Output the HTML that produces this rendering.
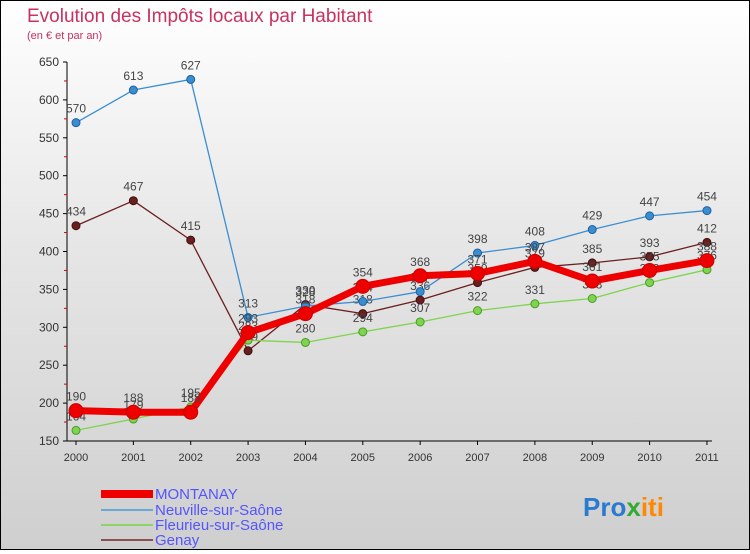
<!DOCTYPE html>
<html><head><meta charset="utf-8"><style>
html,body{margin:0;padding:0}
body{width:750px;height:550px;overflow:hidden;font-family:"Liberation Sans",sans-serif}
#wrap{position:relative;width:748px;height:548px;border:1px solid #000;background:linear-gradient(#ffffff,#e6e6e6 45%,#cfcfcf)}
</style></head><body>
<div id="wrap">
<svg id="chart" width="748" height="548" xmlns="http://www.w3.org/2000/svg">
<text x="26" y="21" font-size="19" fill="#c8325e">Evolution des Impôts locaux par Habitant</text>
<text x="26" y="38" font-size="11" fill="#c8325e">(en € et par an)</text>
<g id="axes"></g>
<g id="series"></g>
<g>
<rect x="100" y="489" width="52" height="8" fill="#e00"/>
<text x="154" y="498" font-size="15" fill="#55f">MONTANAY</text>
<line x1="100" y1="509" x2="152" y2="509" stroke="#6aa7d4" stroke-width="2"/>
<text x="154" y="514" font-size="15" fill="#55f">Neuville-sur-Saône</text>
<line x1="100" y1="524" x2="152" y2="524" stroke="#8ed36a" stroke-width="2"/>
<text x="154" y="529" font-size="15" fill="#55f">Fleurieu-sur-Saône</text>
<line x1="100" y1="539" x2="152" y2="539" stroke="#8a5050" stroke-width="2"/>
<text x="154" y="544" font-size="15" fill="#55f">Genay</text>
</g>
<text x="582" y="515" font-size="26" font-weight="bold"><tspan fill="#2a7bd0">Pro</tspan><tspan fill="#3a3">x</tspan><tspan fill="#f80">iti</tspan></text>
</svg>
</div>
<script>
const years=[2000,2001,2002,2003,2004,2005,2006,2007,2008,2009,2010,2011];
const yTicks=[150,200,250,300,350,400,450,500,550,600,650];
const montanay=[190,188,188,293,318,354,368,371,387,361,375,388];
const neuville=[570,613,627,313,328,334,347,398,408,429,447,454];
const fleurieu=[164,179,195,283,280,294,307,322,331,338,359,376];
const genay=[434,467,415,269,330,318,336,359,379,385,393,412];
const NS="http://www.w3.org/2000/svg";
function X(i){return 75+i*57.36;}
function Y(v){return 440-(v-150)*0.758;}
function mk(t,a,p){const e=document.createElementNS(NS,t);for(const k in a)e.setAttribute(k,a[k]);p.appendChild(e);return e;}
const ax=document.getElementById('axes');
const yl=mk('line',{x1:66,y1:Y(650),x2:66,y2:Y(150),stroke:'#000'},ax);


yTicks.forEach(v=>{
 mk('line',{x1:62,x2:66,y1:Y(v),y2:Y(v),stroke:'#000'},ax);
 if(v<650) mk('line',{x1:63,x2:66,y1:Y(v+25),y2:Y(v+25),stroke:'#d00'},ax);
 const t=mk('text',{x:58,y:Y(v)+4,'font-size':12,fill:'#333','text-anchor':'end'},ax);t.textContent=v;
 
 
});
const xl=mk('line',{x1:66,y1:Y(150),x2:X(11)+5,y2:Y(150),stroke:'#000'},ax);


years.forEach((yr,i)=>{
 mk('line',{x1:X(i),x2:X(i),y1:Y(150),y2:Y(150)+4,stroke:'#000'},ax);
 const t=mk('text',{x:X(i),y:Y(150)+20,'font-size':11,fill:'#333','text-anchor':'middle'},ax);t.textContent=yr;
 
 
});
const sg=document.getElementById('series');
function draw(data,name,col,dark,w,r){
 const g=mk('g',{},sg);
 
 
 mk('polyline',{points:data.map((v,i)=>X(i)+','+Y(v)).join(' '),fill:'none',stroke:col,'stroke-width':w,'stroke-linejoin':'round'},g);
 data.forEach((v,i)=>{
  const c=mk('circle',{cx:X(i),cy:Y(v),r:r,fill:col,stroke:dark,'stroke-width':1},g);
  
  
  const t=mk('text',{x:X(i),y:Y(v)-10,'font-size':12,fill:'#444','text-anchor':'middle'},g);t.textContent=v;
  
  
 });
}
draw(genay,'genay','#6b1e1e','#401010',1.3,4);
draw(fleurieu,'fleurieu','#7ed44e','#4a9a2a',1.3,4);
draw(neuville,'neuville','#3a8ed0','#2060a0',1.3,4);
draw(montanay,'montanay','#ee0000','#c00',7,7);
</script>
</body></html>
